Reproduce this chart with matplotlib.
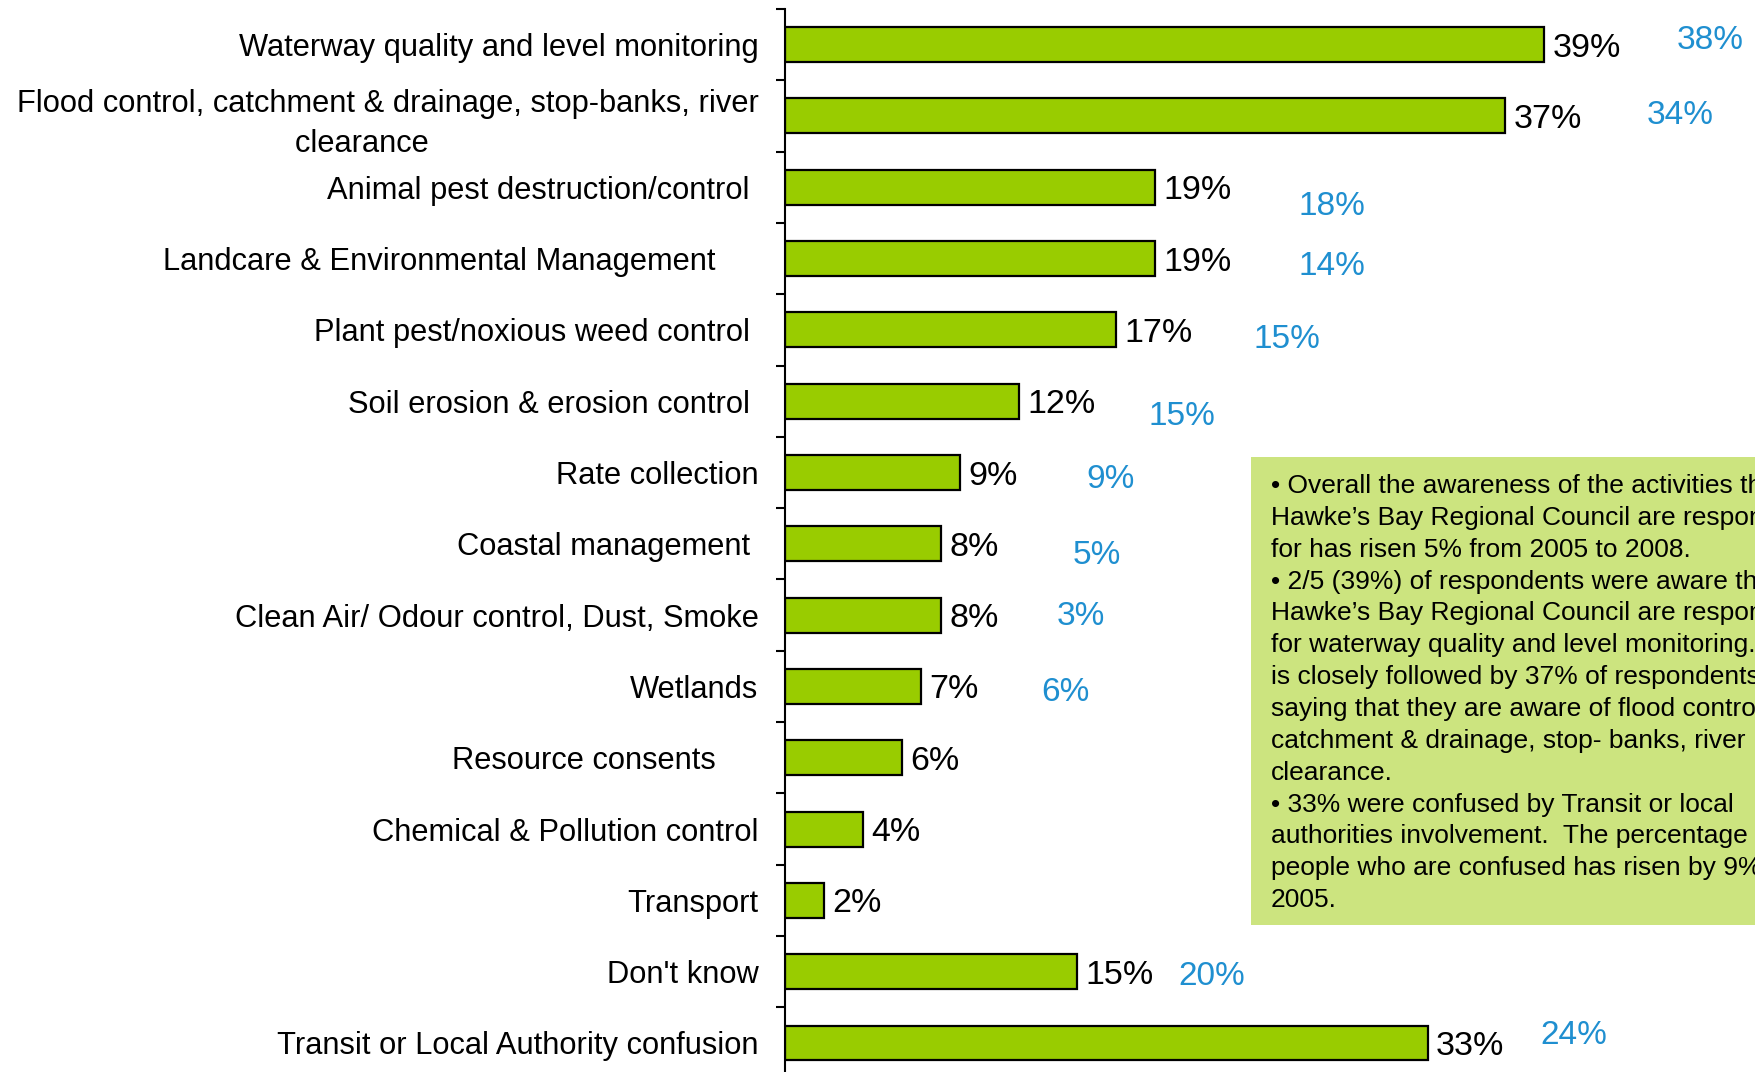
import matplotlib
matplotlib.use("Agg")
import matplotlib.pyplot as plt
import numpy as np

plt.rcParams['font.family'] = ['Liberation Sans', 'DejaVu Sans']

# 2008 survey results (bars) and 2005 results (blue labels)
categories = [
    "Waterway quality and level monitoring",
    "Flood control, catchment & drainage, stop-banks, river\nclearance      ",
    "Animal pest destruction/control ",
    "Landcare & Environmental Management     ",
    "Plant pest/noxious weed control ",
    "Soil erosion & erosion control ",
    "Rate collection",
    "Coastal management ",
    "Clean Air/ Odour control, Dust, Smoke",
    "Wetlands",
    "Resource consents     ",
    "Chemical & Pollution control",
    "Transport",
    "Don't know",
    "Transit or Local Authority confusion",
]
pct_2008 = [39, 37, 19, 19, 17, 12, 9, 8, 8, 7, 6, 4, 2, 15, 33]
pct_2005 = [38, 34, 18, 14, 15, 15, 9, 5, 3, 6, None, None, None, 20, 24]

# where the 2005 labels sit (x in % units, y shift in rows)
prev_x = [47.5, 46.0, 28.1, 28.1, 25.8, 20.4, 16.7, 16.0, 15.2, 14.4, 0, 0, 0, 21.9, 40.5]
prev_dy = [-0.11, -0.06, 0.22, 0.06, 0.08, 0.16, 0.05, 0.11, -0.03, 0.03, 0, 0, 0, 0.02, -0.16]

note_lines = [
    "\u2022 Overall the awareness of the activities that",
    "Hawke\u2019s Bay Regional Council are responsible",
    "for has risen 5% from 2005 to 2008.",
    "\u2022 2/5 (39%) of respondents were aware that",
    "Hawke\u2019s Bay Regional Council are responsible",
    "for waterway quality and level monitoring. This",
    "is closely followed by 37% of respondents",
    "saying that they are aware of flood control,",
    "catchment & drainage, stop- banks, river",
    "clearance.",
    "\u2022 33% were confused by Transit or local",
    "authorities involvement.  The percentage of",
    "people who are confused has risen by 9% since",
    "2005.",
]

fig = plt.figure(figsize=(17.56, 10.72), dpi=100)
ax = fig.add_axes([0.447, -0.0062, 0.553, 0.9978])

y = np.arange(len(categories))
ax.barh(y, pct_2008, height=0.49, color='#99cc00', edgecolor='black', linewidth=1.6)

for yi, v in zip(y, pct_2008):
    ax.annotate(f"{v}%", (v, yi), xytext=(6, 0), textcoords='offset points',
                ha='left', va='center_baseline', fontsize=24.5, color='black')

for yi, v, px, dy in zip(y, pct_2005, prev_x, prev_dy):
    if v is None:
        continue
    ax.text(px, yi + dy, f"{v}%", ha='center', va='center_baseline',
            fontsize=24, color='#1f8fd0')

ax.set_xlim(0, 49.87)
ax.set_ylim(len(categories) - 0.5, -0.5)

ax.set_yticks(y)
ax.set_yticklabels(categories, fontsize=22.2, multialignment='center', linespacing=1.4)
ax.set_yticks(np.arange(len(categories) + 1) - 0.5, minor=True)
ax.tick_params(axis='y', which='major', length=0, pad=19)
ax.tick_params(axis='y', which='minor', length=6.5, width=1.5, direction='out')
ax.set_xticks([])

for s in ['top', 'right', 'bottom']:
    ax.spines[s].set_visible(False)
ax.spines['left'].set_linewidth(1.5)

# comment box on the right (runs off the edge like the original slide)
box = plt.Rectangle((0.7124, 0.1371), 0.4, 0.4366, transform=fig.transFigure,
                    facecolor='#cce47f', edgecolor='none', zorder=3)
fig.patches.append(box)
for i, line in enumerate(note_lines):
    fig.text(0.7238, 0.5401 - i * 0.02971, line, fontsize=19, va='baseline',
             ha='left', color='black', zorder=4)

fig.savefig('out.png', dpi=100)
